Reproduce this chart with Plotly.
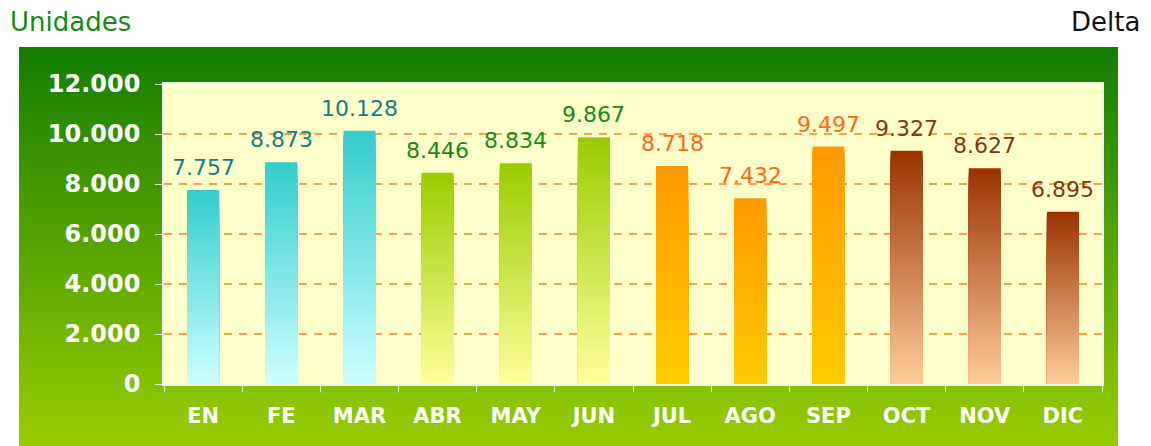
import base64
import plotly.graph_objects as go

# ---- data ----
months = ["EN", "FE", "MAR", "ABR", "MAY", "JUN", "JUL", "AGO", "SEP", "OCT", "NOV", "DIC"]
units = [7757, 8873, 10128, 8446, 8834, 9867, 8718, 7432, 9497, 9327, 8627, 6895]
y_ticks = [0, 2000, 4000, 6000, 8000, 10000, 12000]
title_left = "Unidades"
title_right = "Delta"

# ---- style ----
group_of_month = [0, 0, 0, 1, 1, 1, 2, 2, 2, 3, 3, 3]
grad_top = ["#33cccc", "#99cc00", "#ff9900", "#993300"]
grad_bottom = ["#ccffff", "#ffff99", "#ffcc00", "#ffcc99"]
label_colors = ["#138080", "#168a16", "#ff6611", "#8b3311"]
FONT = "DejaVu Sans"

W, H = 1151, 446
ML, MR, MT, MB = 164, 49, 84, 62
PW, PH = W - ML - MR, H - MT - MB


def hex2rgb(h):
    h = h.lstrip("#")
    return [int(h[i:i + 2], 16) for i in (0, 2, 4)]


def mix(c0, c1, t):
    a, b = hex2rgb(c0), hex2rgb(c1)
    return "rgb(%d,%d,%d)" % tuple(round(a[i] + (b[i] - a[i]) * t) for i in range(3))


def px_x(px):
    return (px - ML) / PW


def px_y(py):
    return (H - MB - py) / PH


fig = go.Figure()

# gradient bars: overlaid bars of decreasing height, each coloured for its top slice
N = 60
for k in range(N):
    f = (N - k) / N
    t = f - 0.5 / N
    cols = [mix(grad_bottom[g], grad_top[g], t) for g in group_of_month]
    fig.add_trace(go.Bar(
        x=months, y=[v * f for v in units], width=0.41,
        marker=dict(color=cols, line=dict(width=0)),
        hoverinfo="skip", showlegend=False,
    ))

# value labels
for m, v, g in zip(months, units, group_of_month):
    fig.add_annotation(
        x=m, y=v, text=f"{v:,}".replace(",", "."), showarrow=False,
        yanchor="bottom", yshift=8,
        font=dict(family=FONT, size=22, color=label_colors[g]),
    )

# titles
fig.add_annotation(xref="paper", yref="paper", x=px_x(8), y=px_y(22), xanchor="left", yanchor="middle",
                   text=title_left, showarrow=False, font=dict(family=FONT, size=26, color="#168a16"))
fig.add_annotation(xref="paper", yref="paper", x=px_x(1142), y=px_y(22), xanchor="right", yanchor="middle",
                   text=title_right, showarrow=False, font=dict(family=FONT, size=26, color="#111111"))

# green gradient panel as background image
svg = ('<svg xmlns="http://www.w3.org/2000/svg" width="100" height="100" viewBox="0 0 100 100" '
       'preserveAspectRatio="none"><defs><linearGradient id="g" x1="0" y1="0" x2="0" y2="1">'
       '<stop offset="0" stop-color="#137d00"/><stop offset="1" stop-color="#99cc00"/>'
       '</linearGradient></defs><rect width="100" height="100" fill="url(#g)"/></svg>')
src = "data:image/svg+xml;base64," + base64.b64encode(svg.encode()).decode()
gx0, gx1, gy0, gy1 = 19, 1118, 47, 446
fig.add_layout_image(dict(
    source=src, xref="paper", yref="paper", x=px_x(gx0), y=px_y(gy0),
    sizex=(gx1 - gx0) / PW, sizey=(gy1 - gy0) / PH, xanchor="left", yanchor="top",
    sizing="stretch", layer="below",
))
# yellow plot area
fig.add_shape(type="rect", xref="x domain", yref="y domain", x0=0, x1=1, y0=0, y1=1,
              fillcolor="#ffffcc", line=dict(width=0), layer="below")

fig.update_layout(
    width=W, height=H,
    margin=dict(l=ML, r=MR, t=MT, b=MB),
    paper_bgcolor="white", plot_bgcolor="rgba(0,0,0,0)",
    barmode="overlay", separators=",.",
    font=dict(family=FONT),
    xaxis=dict(
        type="category", showgrid=False, tickson="boundaries", ticks="outside", ticklen=6,
        tickcolor="#e8e8e8", showline=True, linecolor="#f0f0f0", linewidth=1.5, mirror=True,
        tickfont=dict(family=FONT, size=21, color="white", weight="bold"),
        ticklabelstandoff=12,
    ),
    yaxis=dict(
        range=[0, 12000], tickvals=y_ticks, tickformat=",d", showgrid=True,
        gridcolor="#ff9a50", gridwidth=1.5, griddash="8px,7px", zeroline=False,
        ticks="outside", ticklen=7, tickcolor="#e8e8e8",
        showline=True, linecolor="#f0f0f0", linewidth=1.5, mirror=True,
        tickfont=dict(family=FONT, size=24, color="white", weight="bold"),
        ticklabelstandoff=10,
    ),
)

fig.write_html("out.html", config={"displayModeBar": False},
               post_script="document.body.style.margin='0px';document.body.style.overflow='hidden';")
